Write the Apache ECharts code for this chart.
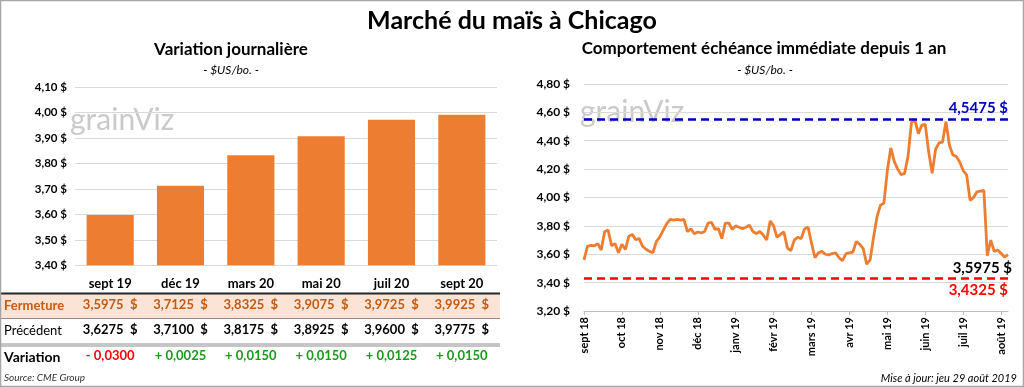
<!DOCTYPE html>
<html><head><meta charset="utf-8">
<script src="https://cdn.jsdelivr.net/npm/echarts@6/dist/echarts.min.js"></script>
<style>html,body{margin:0;padding:0;background:#fff}#c{width:1024px;height:387px}</style>
</head><body><div id="c"></div>
<script>
// ---- Left chart data ----
const contracts = ['sept 19','déc 19','mars 20','mai 20','juil 20','sept 20'];
const closing  = [3.5975, 3.7125, 3.8325, 3.9075, 3.9725, 3.9925];
const previous = [3.6275, 3.7100, 3.8175, 3.8925, 3.9600, 3.9775];
const change   = [-0.0300, 0.0025, 0.0150, 0.0150, 0.0125, 0.0150];
const leftTicks = {min: 3.4, max: 4.1, interval: 0.1};

// ---- Right chart data ----
const months = ['sept 18','oct 18','nov 18','déc 18','janv 19','févr 19','mars 19','avr 19','mai 19','juin 19','juil 19','août 19'];
const labelStep = 11;
const prices = [
 3.56,3.656,3.663,3.66,3.675,3.63,3.76,3.77,3.66,3.675,
 3.61,3.67,3.633,3.727,3.74,3.703,3.71,3.656,3.635,3.62,
 3.612,3.69,3.722,3.77,3.816,3.845,3.84,3.845,3.84,3.845,
 3.76,3.78,3.745,3.757,3.75,3.76,3.82,3.825,3.775,3.78,
 3.71,3.82,3.82,3.775,3.80,3.79,3.78,3.79,3.805,3.76,
 3.745,3.76,3.735,3.70,3.835,3.80,3.72,3.74,3.757,3.645,
 3.625,3.70,3.72,3.71,3.78,3.79,3.68,3.575,3.61,3.62,
 3.60,3.595,3.605,3.61,3.575,3.555,3.605,3.61,3.615,3.69,
 3.67,3.64,3.53,3.56,3.72,3.863,3.946,3.96,4.19,4.35,
 4.255,4.20,4.16,4.17,4.29,4.53,4.545,4.45,4.51,4.515,
 4.32,4.17,4.34,4.385,4.39,4.535,4.37,4.30,4.29,4.25,
 4.19,4.16,3.98,4.00,4.04,4.045,4.05,3.59,3.70,3.62,
 3.63,3.605,3.58,3.5975
];
const maxPrice = 4.5475;
const minPrice = 3.4325;
const rightTicks = {min: 3.2, max: 4.8, interval: 0.2};

// ---- helpers ----
const FONT = 'Lato, "Open Sans", sans-serif';
const ORANGE = '#ED7D31';
const fmt2 = v => v.toFixed(2).replace('.', ',') + ' $';
const fmt4 = v => v.toFixed(4).replace('.', ',');
const fmtPrice = v => fmt4(v) + '  $';
const fmtChange = v => (v < 0 ? '- ' : '+ ') + fmt4(Math.abs(v));

const chart = echarts.init(document.getElementById('c'), null, {renderer: 'canvas'});

const hidden = {axisLine:{show:false}, axisTick:{show:false}, splitLine:{show:false}};
function rowAxis(labels, margin, style) {
  return Object.assign({
    gridIndex: 0, type: 'category', position: 'bottom', data: labels,
    axisLabel: Object.assign({interval: 0, margin: margin, fontSize: 13, fontWeight: 'bold', fontFamily: FONT, color: '#000'}, style)
  }, hidden);
}

const lastIdx = prices.length - 1;

const option = {
  animation: false,
  textStyle: {fontFamily: FONT},
  grid: [
    {left: 75, right: 527, top: 87.3, bottom: 121.7},
    {left: 584, right: 16, top: 84, bottom: 76}
  ],
  xAxis: [
    rowAxis(contracts, 12, {}),
    rowAxis(closing.map(fmtPrice), 33, {color: '#C55A11'}),
    rowAxis(previous.map(fmtPrice), 58, {}),
    rowAxis(change.map(fmtChange), 84, {
      formatter: (val, i) => change[i] < 0 ? '{neg|' + val + '}' : '{pos|' + val + '}',
      rich: {neg: {color: '#FF0000', fontWeight: 'bold', fontSize: 13, fontFamily: FONT},
             pos: {color: '#1A9A1A', fontWeight: 'bold', fontSize: 13, fontFamily: FONT}}
    }),
    {
      gridIndex: 1, type: 'category', boundaryGap: false,
      data: prices.map((_, i) => i),
      axisLine: {show: true, lineStyle: {color: '#bfbfbf', width: 1}},
      axisTick: {show: true, interval: i => i % labelStep === 0, length: 4, lineStyle: {color: '#bfbfbf'}},
      axisLabel: {interval: i => i % labelStep === 0, rotate: 90, margin: 6,
                  formatter: (v, i) => months[Math.round(i / labelStep)] || '',
                  fontSize: 11, fontWeight: 'bold', color: '#000', fontFamily: FONT},
      splitLine: {show: false}
    }
  ],
  yAxis: [
    {gridIndex: 0, type: 'value', min: leftTicks.min, max: leftTicks.max, interval: leftTicks.interval,
     axisLine: {show: false}, axisTick: {show: false},
     splitLine: {lineStyle: {color: '#d9d9d9', width: 1}},
     axisLabel: {formatter: fmt2, margin: 8, fontSize: 11.5, fontWeight: 'bold', color: '#000', fontFamily: FONT}},
    {gridIndex: 1, type: 'value', min: rightTicks.min, max: rightTicks.max, interval: rightTicks.interval,
     axisLine: {show: false}, axisTick: {show: false},
     splitLine: {lineStyle: {color: '#d9d9d9', width: 1}},
     axisLabel: {formatter: fmt2, margin: 14, fontSize: 12, fontWeight: 'bold', color: '#000', fontFamily: FONT}}
  ],
  series: [
    {type: 'bar', xAxisIndex: 0, yAxisIndex: 0, data: closing, barWidth: '67%',
     itemStyle: {color: ORANGE}, silent: true},
    {type: 'line', xAxisIndex: 4, yAxisIndex: 1, data: prices, symbol: 'none',
     lineStyle: {color: ORANGE, width: 2.8}, silent: true, z: 3,
     markPoint: {
       silent: true, animation: false,
       data: [{coord: [lastIdx, prices[lastIdx]], value: prices[lastIdx], symbol: 'circle', symbolSize: 1,
               itemStyle: {color: 'rgba(0,0,0,0)'},
               label: {show: true, position: 'bottom', align: 'right', distance: 6,
                       formatter: p => fmt4(p.value) + ' $', offset: [4, 0],
                       color: '#000', fontWeight: 'bold', fontSize: 15, fontFamily: FONT}}]
     },
     markLine: {
       symbol: 'none', silent: true, animation: false,
       data: [
         {yAxis: maxPrice, lineStyle: {color: '#0000C0', type: [8, 5], width: 2.5},
          label: {position: 'insideEndTop', distance: [0, 4], formatter: fmt4(maxPrice) + ' $',
                  color: '#0000C0', fontWeight: 'bold', fontSize: 15, fontFamily: FONT}},
         {yAxis: minPrice, lineStyle: {color: '#FF0000', type: [8, 5], width: 2.5},
          label: {position: 'insideEndBottom', distance: [0, 4], formatter: fmt4(minPrice) + ' $',
                  color: '#FF0000', fontWeight: 'bold', fontSize: 15, fontFamily: FONT}}
       ]
     }}
  ],
  graphic: [
    {type: 'rect', z: -10, shape: {x: 0, y: 294, width: 500, height: 24}, style: {fill: '#FBE4D5'}},
    {type: 'line', shape: {x1: 0, y1: 293.5, x2: 500, y2: 293.5}, style: {stroke: '#262626', lineWidth: 2}},
    {type: 'line', shape: {x1: 0, y1: 318.5, x2: 500, y2: 318.5}, style: {stroke: '#8c8c8c', lineWidth: 1}},
    {type: 'line', shape: {x1: 0, y1: 344, x2: 500, y2: 344}, style: {stroke: '#8c8c8c', lineWidth: 1}},
    {type: 'line', shape: {x1: 0, y1: 346, x2: 500, y2: 346}, style: {stroke: '#8c8c8c', lineWidth: 1}},
    {type: 'rect', shape: {x: 0.5, y: 0.5, width: 1023, height: 386}, style: {fill: 'none', stroke: '#a6a6a6', lineWidth: 1.5}},
    {type: 'text', x: 512, y: 21, style: {text: 'Marché du maïs à Chicago', font: 'bold 25px ' + FONT, fill: '#000', textAlign: 'center', textVerticalAlign: 'middle'}},
    {type: 'text', x: 231, y: 50, style: {text: 'Variation journalière', font: 'bold 17px ' + FONT, fill: '#000', textAlign: 'center', textVerticalAlign: 'middle'}},
    {type: 'text', x: 231, y: 70, style: {text: '- $US/bo. -', font: 'italic 12px ' + FONT, fill: '#000', textAlign: 'center', textVerticalAlign: 'middle'}},
    {type: 'text', x: 764, y: 49, style: {text: 'Comportement échéance immédiate depuis 1 an', font: 'bold 17px ' + FONT, fill: '#000', textAlign: 'center', textVerticalAlign: 'middle'}},
    {type: 'text', x: 765, y: 70, style: {text: '- $US/bo. -', font: 'italic 12px ' + FONT, fill: '#000', textAlign: 'center', textVerticalAlign: 'middle'}},
    {type: 'text', x: 4, y: 306, style: {text: 'Fermeture', font: 'bold 13px ' + FONT, fill: '#C55A11', textVerticalAlign: 'middle'}},
    {type: 'text', x: 4, y: 331, style: {text: 'Précédent', font: '13px ' + FONT, fill: '#000', textVerticalAlign: 'middle'}},
    {type: 'text', x: 4, y: 357, style: {text: 'Variation', font: 'bold 14px ' + FONT, fill: '#000', textVerticalAlign: 'middle'}},
    {type: 'text', x: 4, y: 378, style: {text: 'Source: CME Group', font: 'italic 10px ' + FONT, fill: '#333', textVerticalAlign: 'middle'}},
    {type: 'text', x: 1017, y: 378, style: {text: 'Mise à jour: jeu 29 août 2019', font: 'italic 11px ' + FONT, fill: '#000', textAlign: 'right', textVerticalAlign: 'middle'}},
    {type: 'text', x: 70, y: 120, style: {text: 'grainViz', font: '30px ' + FONT, fill: '#cacaca', textVerticalAlign: 'middle'}},
    {type: 'text', x: 580, y: 112, style: {text: 'grainViz', font: '30px ' + FONT, fill: '#cacaca', textVerticalAlign: 'middle'}}
  ]
};
chart.setOption(option);
</script></body></html>
